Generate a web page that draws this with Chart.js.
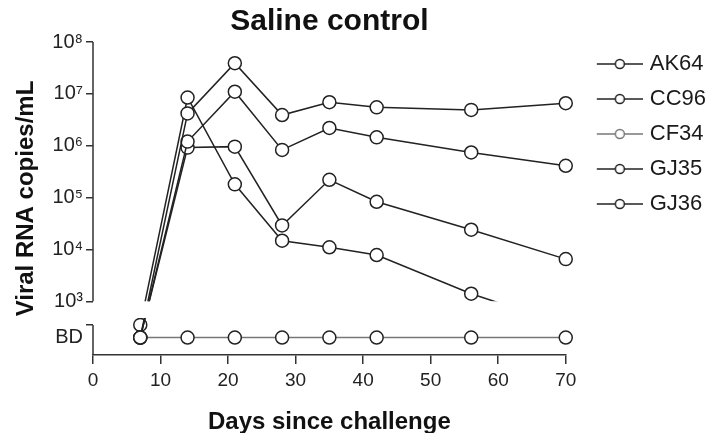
<!DOCTYPE html>
<html>
<head>
<meta charset="utf-8">
<script src="https://cdn.jsdelivr.net/npm/chart.js@4.4.1/dist/chart.umd.min.js"></script>
<style>
  html, body { margin: 0; padding: 0; background: #fff; }
</style>
</head>
<body>
<canvas id="chart" width="716" height="433"></canvas>
<script>
// days after challenge
const days = [7, 14, 21, 28, 35, 42, 56, 70];
// value used to plot "below detection" (BD) on the broken log axis
const BD = 200;
const BD_TOP = 350;
const yMin = 92;

const names = ['AK64', 'CC96', 'CF34', 'GJ35', 'GJ36'];
const ak64 = [BD, 4.2e6, 3.9e7, 3.9e6, 6.9e6, 5.5e6, 4.9e6, 6.6e6];
const cc96 = [BD, 1.2e6, 1.1e7, 8.3e5, 2.2e6, 1.45e6, 7.4e5, 4.1e5];
const cf34 = [BD, BD, BD, BD, BD, BD, BD, BD];
const gj35 = [BD, 9.2e5, 9.6e5, 2.9e4, 2.2e5, 8.3e4, 2.4e4, 6.5e3];
const gj36 = [350, 8.5e6, 1.8e5, 1.47e4, 1.1e4, 7.8e3, 1.4e3, 350];
const series = [ak64, cc96, cf34, gj35, gj36];
const lineColors = ['#222', '#222', '#777', '#222', '#222'];

const yTicks = [BD, BD_TOP, 1e3, 1e4, 1e5, 1e6, 1e7, 1e8];
const sup = '⁰¹²³⁴⁵⁶⁷⁸⁹';
const FONT = '"Liberation Sans", Arial, sans-serif';

function legendIcon(color) {
  const c = document.createElement('canvas');
  c.width = 68; c.height = 14;
  const g = c.getContext('2d');
  g.strokeStyle = color;
  g.lineWidth = 1.5;
  g.beginPath(); g.moveTo(22, 7); g.lineTo(68, 7); g.stroke();
  g.beginPath(); g.arc(45, 7, 4.5, 0, Math.PI * 2);
  g.fillStyle = '#fff'; g.fill(); g.stroke();
  return c;
}
const icons = lineColors.map(legendIcon);

// hide the parts of lines that fall in the axis break
const breakClip = {
  id: 'breakClip',
  beforeDatasetDraw(chart, args) {
    if (names[args.index] === 'CF34') return;
    const {ctx, scales: {x, y}} = chart;
    const top = y.getPixelForValue(BD_TOP) - 7;
    ctx.save();
    ctx.beginPath();
    ctx.rect(0, 0, chart.width, y.getPixelForValue(1e3));
    ctx.rect(0, top, x.getPixelForValue(10), chart.height - top);
    ctx.clip();
  },
  afterDatasetDraw(chart, args) {
    if (names[args.index] === 'CF34') return;
    chart.ctx.restore();
  }
};

// broken y axis line
const brokenAxis = {
  id: 'brokenAxis',
  afterDraw(chart) {
    const {ctx, chartArea, scales: {y}} = chart;
    const x0 = chartArea.left;
    ctx.save();
    ctx.strokeStyle = '#333';
    ctx.lineWidth = 1.5;
    ctx.beginPath();
    ctx.moveTo(x0, y.getPixelForValue(1e8));
    ctx.lineTo(x0, y.getPixelForValue(1e3));
    ctx.moveTo(x0, y.getPixelForValue(BD_TOP));
    ctx.lineTo(x0, chartArea.bottom);
    ctx.stroke();
    ctx.restore();
  }
};

new Chart(document.getElementById('chart'), {
  type: 'line',
  data: {
    datasets: names.map((n, i) => ({
      label: n,
      data: days.map((d, j) => ({x: d, y: series[i][j]})),
      borderColor: lineColors[i],
      borderWidth: 1.5,
      pointRadius: 6.5,
      pointBorderWidth: 1.5,
      pointBorderColor: '#222',
      pointBackgroundColor: '#fff',
      tension: 0,
      clip: false
    }))
  },
  options: {
    responsive: false,
    animation: false,
    devicePixelRatio: 1,
    layout: { padding: 0 },
    scales: {
      x: {
        type: 'linear',
        min: 0, max: 70,
        ticks: { stepSize: 10, color: '#222', font: { family: FONT, size: 19 }, padding: 5, maxRotation: 0 },
        grid: { drawOnChartArea: false, tickLength: 9, color: '#333', lineWidth: 1.5 },
        border: { display: true, color: '#333', width: 1.5 },
        title: { display: true, text: 'Days since challenge', color: '#111',
                 font: { family: FONT, size: 24, weight: 'bold' }, padding: { top: 12, bottom: -4 } },
        afterFit(s) { s.height = 78; }
      },
      y: {
        type: 'logarithmic',
        min: yMin, max: 1e8,
        afterBuildTicks(s) { s.ticks = yTicks.map(v => ({value: v})); },
        ticks: {
          color: '#222', font: { family: FONT, size: 20 }, padding: 3, autoSkip: false,
          callback(v) {
            if (v === BD) return 'BD';
            if (v === BD_TOP) return '';
            return '10' + sup[Math.round(Math.log10(v))];
          }
        },
        grid: {
          drawOnChartArea: false, tickLength: 7, lineWidth: 1.5,
          tickColor: c => (c.tick && c.tick.value === BD) ? 'rgba(0,0,0,0)' : '#333'
        },
        border: { display: false },
        title: { display: true, text: 'Viral RNA copies/mL', color: '#111',
                 font: { family: FONT, size: 24, weight: 'bold' }, padding: { top: 12, bottom: 0 } },
        afterFit(s) { s.width = 93; }
      }
    },
    plugins: {
      title: {
        display: true, text: 'Saline control', color: '#111', fullSize: false,
        font: { family: FONT, size: 30, weight: 'bold' }, padding: { top: 4, bottom: 2 }
      },
      legend: {
        position: 'right', align: 'start',
        title: { display: true, text: ' ', font: { family: FONT, size: 30 }, padding: { top: 2, bottom: 2 } },
        labels: {
          usePointStyle: true, pointStyleWidth: 60, boxHeight: 14, padding: 13,
          color: '#1a1a1a', font: { family: FONT, size: 22 },
          generateLabels: chart => chart.data.datasets.map((ds, i) => ({
            text: ds.label, pointStyle: icons[i], datasetIndex: i, hidden: false,
            fillStyle: '#fff', strokeStyle: '#222', lineWidth: 0, fontColor: '#1a1a1a'
          }))
        }
      },
      tooltip: { enabled: false }
    }
  },
  plugins: [breakClip, brokenAxis]
});
</script>
</body>
</html>
